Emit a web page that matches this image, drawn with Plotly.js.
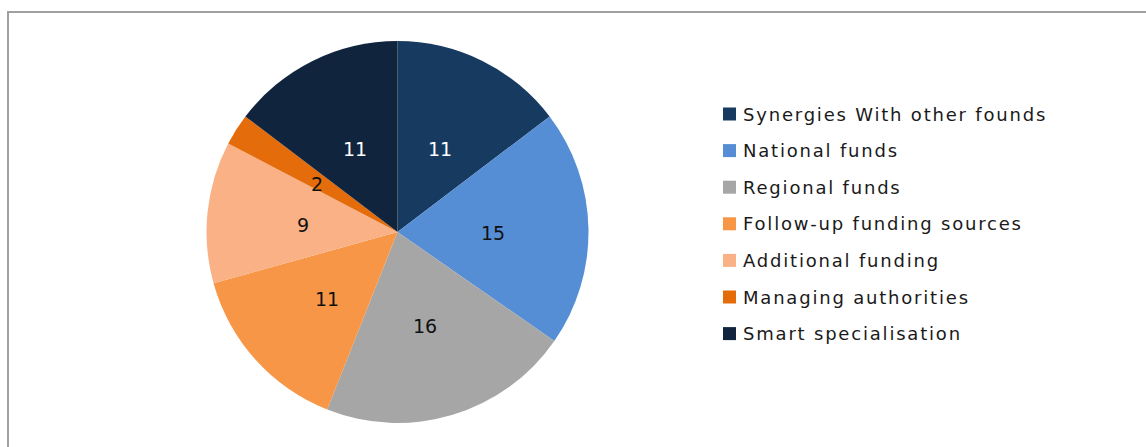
<!DOCTYPE html>
<html>
<head>
<meta charset="utf-8">
<script src="https://cdn.plot.ly/plotly-3.0.1.min.js"></script>
<style>
  html, body { margin: 0; padding: 0; background: #ffffff; }
  #chart { width: 1146px; height: 447px; }
</style>
</head>
<body>
<div id="chart"></div>
<script>
// ---- data ----
const categories = [
  "Synergies With other founds",
  "National funds",
  "Regional funds",
  "Follow-up funding sources",
  "Additional funding",
  "Managing authorities",
  "Smart specialisation"
];
const values = [11, 15, 16, 11, 9, 2, 11];
const sliceColors = ["#173A60", "#558ED5", "#A6A6A6", "#F79646", "#F9B185", "#E46C0A", "#10243E"];
const labelColors = ["#ffffff", "#111111", "#111111", "#111111", "#111111", "#111111", "#ffffff"];

// ---- layout helpers ----
const W = 1146, H = 447;
const px = x => x / W;
const py = y => 1 - y / H;

// pie placement (pixels)
const pieL = 206, pieR = 589, pieT = 41, pieB = 423;
const cx = (pieL + pieR) / 2, cy = (pieT + pieB) / 2;
const rad = Math.min(pieR - pieL, pieB - pieT) / 2;

const trace = {
  type: "pie",
  labels: categories,
  values: values,
  sort: false,
  direction: "clockwise",
  rotation: 0,
  marker: { colors: sliceColors, line: { width: 0 } },
  textinfo: "none",
  domain: { x: [px(pieL), px(pieR)], y: [py(pieB), py(pieT)] },
  hoverinfo: "label+value",
  showlegend: false
};

const shapes = [{
  type: "rect", xref: "paper", yref: "paper",
  x0: px(8), x1: 1.02, y0: -0.05, y1: py(12),
  line: { color: "#A0A0A0", width: 2 }, fillcolor: "rgba(0,0,0,0)"
}];
const annotations = [];

// value labels at half radius along each slice's mid-angle
const total = values.reduce((a, b) => a + b, 0);
let cum = 0;
values.forEach((v, i) => {
  const mid = (cum + v / 2) / total * 2 * Math.PI;
  cum += v;
  const d = rad * 0.5;
  annotations.push({
    xref: "paper", yref: "paper",
    x: px(cx + d * Math.sin(mid)), y: py(cy - d * Math.cos(mid)),
    xanchor: "center", yanchor: "middle", showarrow: false, yshift: -3,
    text: String(v),
    font: { family: "DejaVu Sans, sans-serif", size: 19, color: labelColors[i] }
  });
});

// legend
const legTop = 114, legStep = 36.6;
categories.forEach((c, i) => {
  const ly = legTop + i * legStep;
  shapes.push({
    type: "rect", xref: "paper", yref: "paper",
    x0: px(723), x1: px(736), y0: py(ly + 6.5), y1: py(ly - 6.5),
    line: { width: 0 }, fillcolor: sliceColors[i]
  });
  annotations.push({
    xref: "paper", yref: "paper", x: px(741), y: py(ly),
    xanchor: "left", yanchor: "middle", showarrow: false,
    text: c, font: { family: "DejaVu Sans, sans-serif", size: 18, color: "#1a1a1a" }
  });
});

const layout = {
  width: W, height: H,
  margin: { l: 0, r: 0, t: 0, b: 0 },
  paper_bgcolor: "#ffffff",
  showlegend: false,
  shapes: shapes,
  annotations: annotations
};

Plotly.newPlot("chart", [trace], layout, { displayModeBar: false, staticPlot: true }).then(gd => {
  // widen the legend-text spacing like the reference rendering, keeping the left edge fixed
  const anns = gd.querySelectorAll("g.annotation");
  anns.forEach((g, k) => {
    if (k >= values.length) {
      g.querySelectorAll("text").forEach(t => {
        const bb = t.getBBox();
        t.setAttribute("text-anchor", "start");
        t.setAttribute("x", bb.x);
        t.style.textAnchor = "start";
        t.style.letterSpacing = "1.8px";
      });
    }
  });
});
</script>
</body>
</html>
